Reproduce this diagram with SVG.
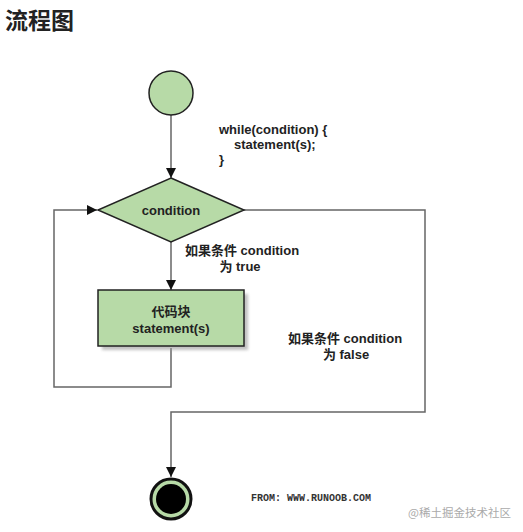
<svg xmlns="http://www.w3.org/2000/svg" width="523" height="532" viewBox="0 0 523 532">
<defs>
<marker id="arr" viewBox="0 0 10 10" refX="10" refY="5" markerWidth="10" markerHeight="10" markerUnits="userSpaceOnUse" orient="auto">
<path d="M0,0 L10,5 L0,10 Z" fill="#111"/>
</marker>
<filter id="sh" x="-10%" y="-10%" width="130%" height="140%">
<feGaussianBlur stdDeviation="1.5"/>
</filter>
</defs>
<style>
.ln{fill:none;stroke:#666;stroke-width:1.5}
.t{font-family:"Liberation Sans","Noto Sans CJK SC",sans-serif;font-weight:bold;font-size:13px;fill:#222}
.g{fill:#b7daa7;stroke:#222;stroke-width:1.5}
</style>
<rect width="523" height="532" fill="#fff"/>
<text x="5" y="29" font-family="'Noto Sans CJK SC',sans-serif" font-weight="bold" font-size="23" fill="#222">流程图</text>
<g id="connectors">
<path class="ln" d="M171,115 L171,178" marker-end="url(#arr)"/>
<path class="ln" d="M171,242 L171,290" marker-end="url(#arr)"/>
<path class="ln" d="M171,348 L171,387 L54,387 L54,210 L97,210" marker-end="url(#arr)"/>
<path class="ln" d="M244,210 L425,210 L425,412 L171,412 L171,477" marker-end="url(#arr)"/>
</g>
<g id="start">
<circle cx="171" cy="93" r="22" class="g"/>
</g>
<g id="condition">
<polygon points="171,178 244,210 171,242 98,210" class="g"/>
<text x="171" y="215" text-anchor="middle" class="t" fill="#1c2e1c">condition</text>
</g>
<g id="block">
<rect x="102" y="294" width="146" height="56" fill="#999" opacity="0.6" filter="url(#sh)"/>
<rect x="98" y="290" width="146" height="56" class="g" stroke-width="2"/>
<text x="171" y="316" text-anchor="middle" class="t">代码块</text>
<text x="171" y="333" text-anchor="middle" class="t">statement(s)</text>
</g>
<g id="end">
<circle cx="171" cy="499" r="20" fill="#b7daa7" stroke="#111" stroke-width="3"/>
<circle cx="171" cy="499" r="15" fill="#000"/>
</g>
<g id="labels">
<text x="219" y="134" class="t">while(condition) {</text>
<text x="234" y="149" class="t">statement(s);</text>
<text x="219" y="164" class="t">}</text>
<text x="185" y="255" class="t">如果条件 condition</text>
<text x="240" y="271" text-anchor="middle" class="t">为 true</text>
<text x="288" y="343" class="t">如果条件 condition</text>
<text x="346" y="359" text-anchor="middle" class="t">为 false</text>
<text x="251" y="501" font-family="'Liberation Mono',monospace" font-weight="bold" font-size="10" fill="#333">FROM: WWW.RUNOOB.COM</text>
<text x="408" y="517" font-family="'Noto Sans CJK SC',sans-serif" font-size="11.5" fill="#aaa">@稀土掘金技术社区</text>
</g>
</svg>
